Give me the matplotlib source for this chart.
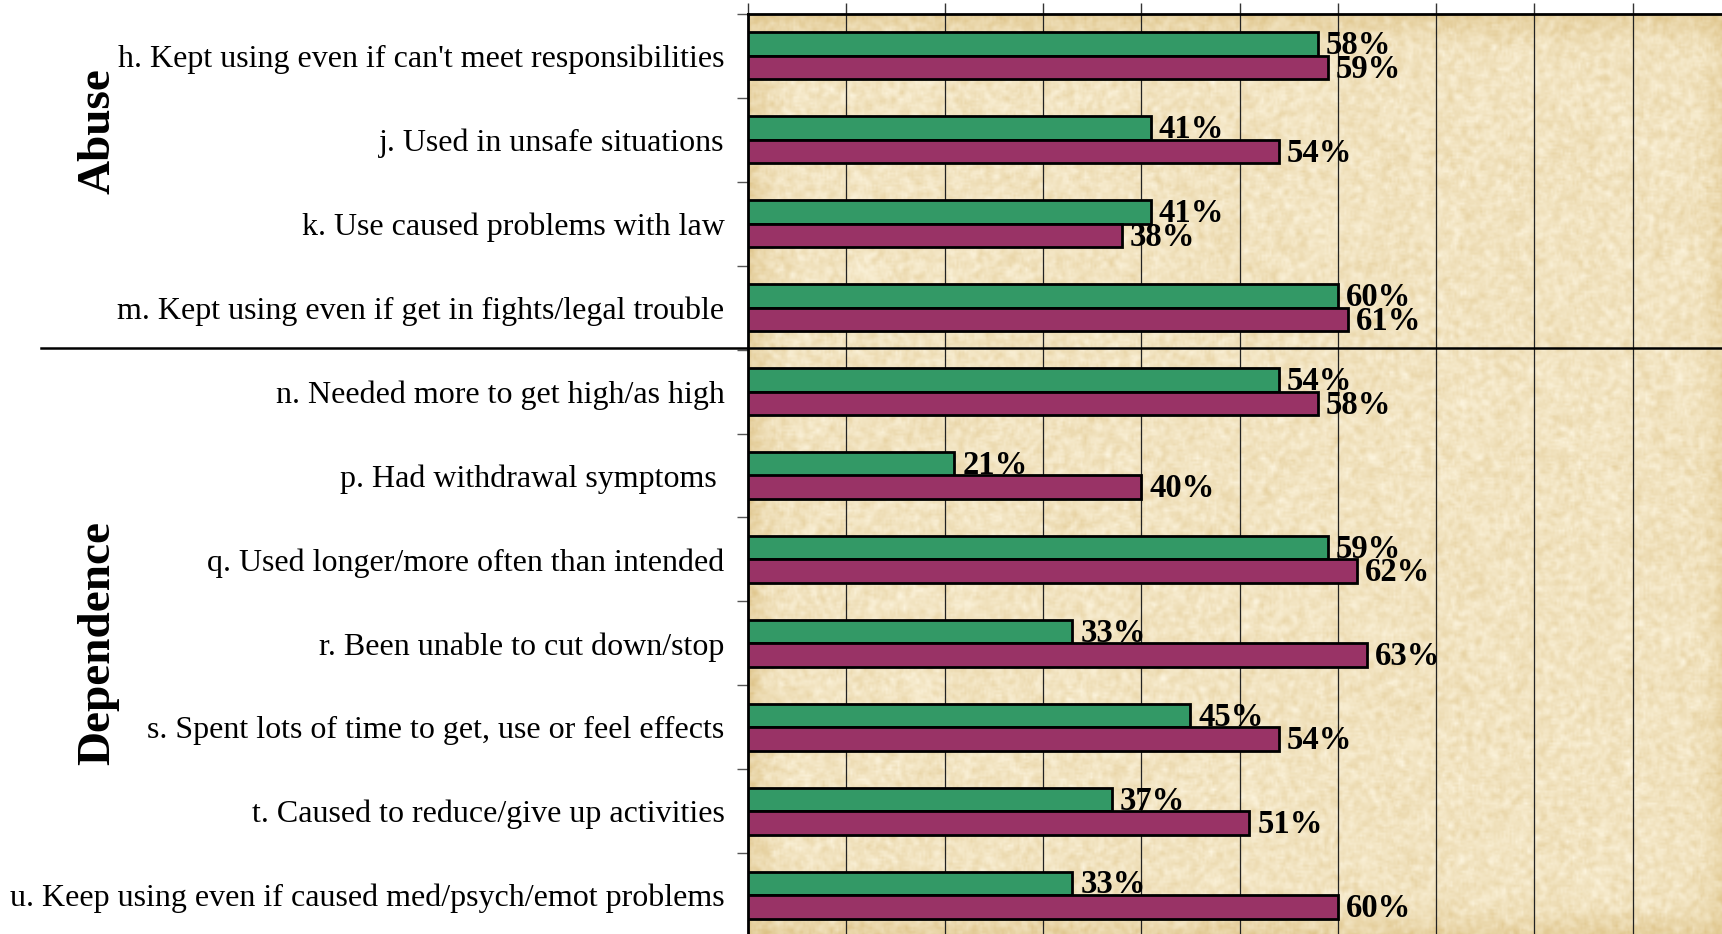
import numpy as np
import matplotlib
matplotlib.use('Agg')
import matplotlib.pyplot as plt
from matplotlib.lines import Line2D
from matplotlib.transforms import blended_transform_factory

# Chart data (percent), top to bottom
items = [
    "h. Kept using even if can't meet responsibilities",
    "j. Used in unsafe situations",
    "k. Use caused problems with law",
    "m. Kept using even if get in fights/legal trouble",
    "n. Needed more to get high/as high",
    "p. Had withdrawal symptoms ",
    "q. Used longer/more often than intended",
    "r. Been unable to cut down/stop",
    "s. Spent lots of time to get, use or feel effects",
    "t. Caused to reduce/give up activities",
    "u. Keep using even if caused med/psych/emot problems",
]
green_pct = [58, 41, 41, 60, 54, 21, 59, 33, 45, 37, 33]
maroon_pct = [59, 54, 38, 61, 58, 40, 62, 63, 54, 51, 60]
groups = ["Abuse", "Dependence"]
abuse_count = 4

plt.rcParams['font.family'] = ['Liberation Serif', 'DejaVu Serif']

W, H = 1722, 934
fig = plt.figure(figsize=(W / 100, H / 100), dpi=100)
ax = fig.add_axes([748 / W, 1 - 937 / H, (1731 - 748) / W, (937 - 14) / H])

n = len(items)
y = np.arange(n)
ax.set_xlim(0, 100)
ax.set_ylim(n - 0.5, -0.5)

# parchment texture for the plot area (fine grain plus soft blotches)
rng = np.random.default_rng(7)
fine = rng.random((460, 500))
k3 = np.ones(3) / 3
fine = np.apply_along_axis(lambda r: np.convolve(r, k3, mode='same'), 1, fine)
fine = np.apply_along_axis(lambda c: np.convolve(c, k3, mode='same'), 0, fine)
blot = rng.random((460, 500))
k15 = np.ones(25) / 25
for _ in range(2):
    blot = np.apply_along_axis(lambda r: np.convolve(r, k15, mode='same'), 1, blot)
    blot = np.apply_along_axis(lambda c: np.convolve(c, k15, mode='same'), 0, blot)
fine = (fine - fine.mean()) / (fine.std() + 1e-9)
blot = (blot - blot.mean()) / (blot.std() + 1e-9)
tex = 0.6 * fine + 0.5 * blot
base = np.array([241, 226, 190]) / 255
var = np.array([5, 8, 14]) / 255
img = np.clip(base[None, None, :] + tex[:, :, None] * var[None, None, :], 0, 1)
ax.imshow(img, extent=[0, 100, n - 0.5, -0.5], aspect='auto', zorder=0, interpolation='bilinear')

bh = 0.28
ax.barh(y - bh / 2, green_pct, height=bh, color='#339966', edgecolor='black', linewidth=2, zorder=3)
ax.barh(y + bh / 2, maroon_pct, height=bh, color='#993366', edgecolor='black', linewidth=2, zorder=3)

for i in range(n):
    ax.text(green_pct[i] + 0.8, y[i] - bh / 2 + 0.02, f"{green_pct[i]}%", va='center', ha='left',
            fontsize=23.5, fontweight='bold', zorder=4)
    ax.text(maroon_pct[i] + 0.8, y[i] + bh / 2 + 0.02, f"{maroon_pct[i]}%", va='center', ha='left',
            fontsize=23.5, fontweight='bold', zorder=4)

ax.set_xticks(np.arange(0, 101, 10))
ax.set_xticklabels([])
ax.xaxis.set_ticks_position('top')
ax.tick_params(axis='x', direction='out', length=8, width=1, color='#333333')
ax.grid(axis='x', color='#222222', linewidth=0.9, zorder=1)

ax.set_yticks(np.arange(n + 1) - 0.5, minor=False)
ax.set_yticklabels([])
ax.set_yticks(y, minor=True)
ax.set_yticklabels(items, minor=True, fontsize=23)
ax.tick_params(axis='y', which='major', direction='out', length=8, width=1, color='#555555')
ax.tick_params(axis='y', which='minor', length=0, pad=17)

for side in ['right', 'bottom']:
    ax.spines[side].set_visible(False)
ax.spines['left'].set_linewidth(2)
ax.spines['top'].set_linewidth(2)

# separator between the two groups
tr = blended_transform_factory(fig.transFigure, ax.transData)
fig.add_artist(Line2D([41 / W, 1.0], [abuse_count - 0.52, abuse_count - 0.52], transform=tr,
                      color='black', linewidth=1.8, zorder=5))

fig.text(98 / W, 1 - 131 / H, groups[0], rotation=90, ha='center', va='center',
         fontsize=34, fontweight='bold')
fig.text(98 / W, 1 - 643 / H, groups[1], rotation=90, ha='center', va='center',
         fontsize=34, fontweight='bold')

fig.savefig('out.png', dpi=100, facecolor='white')
